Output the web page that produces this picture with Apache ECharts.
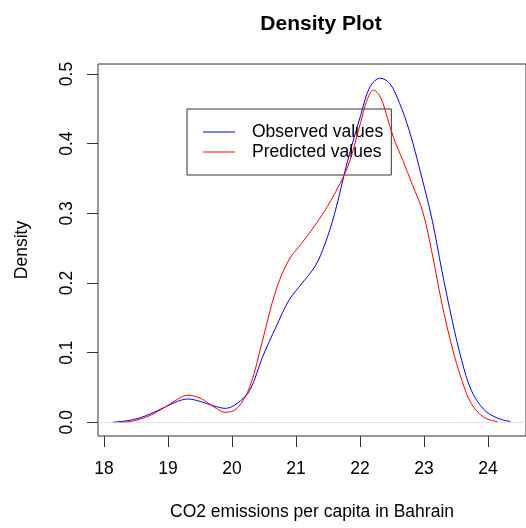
<!DOCTYPE html>
<html>
<head>
<meta charset="utf-8">
<script src="https://cdn.jsdelivr.net/npm/echarts@6/dist/echarts.min.js"></script>
<style>html,body{margin:0;padding:0;background:#fff;}#c{width:526px;height:528px;}</style>
</head>
<body>
<div id="c"></div>
<script>
// Observed density curve (x, density)
var observedX = [18.14,18.35,18.55,18.75,18.96,19.15,19.31,19.52,19.72,19.9,20.08,20.28,20.48,20.69,20.89,21.09,21.3,21.45,21.6,21.81,22.01,22.16,22.32,22.47,22.62,22.77,22.93,23.13,23.28,23.44,23.59,23.74,23.94,24.15,24.35];
var observedY = [0,0.002,0.006,0.013,0.022,0.030,0.0334,0.0296,0.0234,0.020,0.027,0.046,0.094,0.137,0.175,0.199,0.224,0.255,0.298,0.376,0.440,0.482,0.494,0.486,0.458,0.419,0.365,0.290,0.218,0.147,0.089,0.046,0.018,0.006,0.001];
// Predicted density curve (x, density)
var predictedX = [18.24,18.4,18.55,18.75,18.96,19.15,19.31,19.52,19.72,19.9,20.08,20.28,20.48,20.69,20.89,21.09,21.3,21.55,21.81,22.01,22.11,22.21,22.32,22.42,22.52,22.67,22.82,22.98,23.13,23.28,23.44,23.59,23.74,23.94,24.15];
var predictedY = [0,0.001,0.004,0.011,0.022,0.033,0.039,0.034,0.022,0.0143,0.020,0.051,0.118,0.190,0.233,0.257,0.283,0.319,0.367,0.430,0.462,0.477,0.467,0.440,0.410,0.376,0.341,0.303,0.242,0.171,0.108,0.061,0.027,0.007,0.001];
var xTicks = [18,19,20,21,22,23,24];
var yTicks = [0,0.1,0.2,0.3,0.4,0.5];
var seriesNames = ['Observed values','Predicted values'];

function zip(xs, ys){ return xs.map(function(x,i){ return [x, ys[i]]; }); }

var FONT = 'Liberation Sans, Arial, Helvetica, sans-serif';
var chart = echarts.init(document.getElementById('c'), null, {renderer:'canvas'});
chart.setOption({
  animation: false,
  backgroundColor: '#fff',
  textStyle: {fontFamily: FONT},
  title: {
    text: 'Density Plot', left: 316, top: 9, textAlign: 'center',
    textStyle: {fontSize: 21, fontWeight: 'bold', color: '#000', fontFamily: FONT}
  },
  grid: {left: 98, top: 64, width: 438, height: 372, show: true, borderColor: '#333', borderWidth: 1, backgroundColor: 'transparent'},
  legend: {
    orient: 'vertical', left: 187, top: 109,
    padding: [13, 8, 13, 16], borderColor: '#333', borderWidth: 1,
    icon: 'rect', itemWidth: 32, itemHeight: 1, itemGap: 0,
    textStyle: {fontSize: 17.5, lineHeight: 20, color: '#000', fontFamily: FONT, padding: [0,0,0,12]},
    data: seriesNames
  },
  xAxis: {
    type: 'value', min: 17.908, max: 24.595,
    name: 'CO2 emissions per capita in Bahrain', nameLocation: 'middle', nameGap: 67,
    nameTextStyle: {fontSize: 17.5, color: '#000', fontFamily: FONT},
    axisLine: {show: false, onZero: false},
    axisTick: {show: true, length: 11, lineStyle: {color: '#333'}, customValues: xTicks},
    axisLabel: {fontSize: 17.5, color: '#000', margin: 24, customValues: xTicks, formatter: function(v){ return String(v); }},
    splitLine: {show: false}
  },
  yAxis: {
    type: 'value', min: -0.0197, max: 0.5144,
    name: 'Density', nameLocation: 'middle', nameGap: 67, nameRotate: 90,
    nameTextStyle: {fontSize: 17.5, color: '#000', fontFamily: FONT},
    axisLine: {show: false, onZero: false},
    axisTick: {show: true, length: 11, lineStyle: {color: '#333'}, customValues: yTicks},
    axisLabel: {fontSize: 17.5, color: '#000', margin: 22, rotate: 90, customValues: yTicks, formatter: function(v){ return v.toFixed(1); }},
    splitLine: {show: false}
  },
  series: [
    {
      name: seriesNames[0], type: 'line', data: zip(observedX, observedY),
      smooth: 0.35, symbol: 'none', showSymbol: false,
      lineStyle: {color: '#0000ff', width: 1}, itemStyle: {color: '#0000ff'},
      markLine: {silent: true, symbol: ['none','none'], label: {show: false},
        lineStyle: {color: '#d0d0d0', width: 0.6, type: 'solid'}, data: [{yAxis: 0}]},
      z: 3
    },
    {
      name: seriesNames[1], type: 'line', data: zip(predictedX, predictedY),
      smooth: 0.35, symbol: 'none', showSymbol: false,
      lineStyle: {color: '#ff0000', width: 1}, itemStyle: {color: '#ff0000'},
      z: 4
    }
  ]
});
</script>
</body>
</html>
